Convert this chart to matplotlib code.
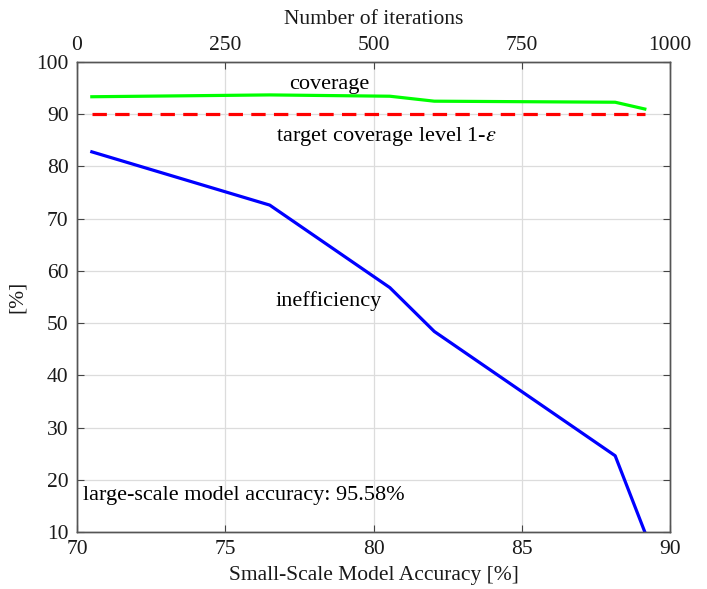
import matplotlib
matplotlib.use("Agg")
import matplotlib.pyplot as plt

plt.rcParams['font.family'] = ['Liberation Serif', 'DejaVu Serif']
plt.rcParams['mathtext.fontset'] = 'stix'

accuracy = [70.5, 76.5, 80.55, 82.05, 88.15, 89.15]
coverage = [93.35, 93.7, 93.45, 92.5, 92.3, 91.0]
inefficiency = [82.8, 72.6, 56.8, 48.4, 24.6, 10.0]
target_level = 90
x_ticks = [70, 75, 80, 85, 90]
y_ticks = [10, 20, 30, 40, 50, 60, 70, 80, 90, 100]
iter_ticks = [0, 250, 500, 750, 1000]

fig = plt.figure(figsize=(7.07, 5.89), dpi=100)
ax = fig.add_axes([0.1089, 0.0968, 0.8388, 0.7979])

ax.plot(accuracy, coverage, color='#00ff00', lw=2.3)
ax.plot(accuracy, inefficiency, color='#0000ff', lw=2.3)
ax.plot([accuracy[0], accuracy[-1]], [target_level, target_level], color='#ff0000',
        lw=2.3, dashes=[4.5, 2.6])

ax.set_xlim(70, 90)
ax.set_ylim(10, 100)
ax.set_xticks(x_ticks)
ax.set_yticks(y_ticks)
ax.grid(True, color='#dcdcdc', lw=0.9)
ax.set_axisbelow(True)
ax.tick_params(axis='x', direction='in', labelsize=15.5, length=5, color='#444444',
               labelcolor='#1a1a1a', pad=6)
ax.tick_params(axis='y', direction='in', labelsize=15.5, length=5, color='#444444',
               labelcolor='#1a1a1a', right=True, pad=6)
for s in ax.spines.values():
    s.set_color('#555555')
    s.set_linewidth(1.0)
ax.set_xlabel('Small-Scale Model Accuracy [%]', fontsize=15.5, labelpad=5, color='#1a1a1a')
ax.set_ylabel('[%]', fontsize=15.5, labelpad=7, color='#1a1a1a')

ax.text(78.5, 95.7, 'coverage', fontsize=16, ha='center', va='center')
ax.text(80.45, 85.8, r'target coverage level 1-$\epsilon$', fontsize=16, ha='center', va='center')
ax.text(78.5, 54.2, 'inefficiency', fontsize=16, ha='center', va='center')
ax.text(70.2, 17.0, 'large-scale model accuracy: 95.58%', fontsize=16, ha='left', va='center')

ax2 = ax.twiny()
ax2.set_xlim(0, 1000)
ax2.set_xticks(iter_ticks)
ax2.tick_params(direction='in', labelsize=15.5, length=5, color='#444444',
                labelcolor='#1a1a1a', pad=5)
for s in ax2.spines.values():
    s.set_color('#555555')
    s.set_linewidth(1.0)
ax2.set_xlabel('Number of iterations', fontsize=15.5, labelpad=9, color='#1a1a1a')

fig.savefig('out.png', dpi=100)
